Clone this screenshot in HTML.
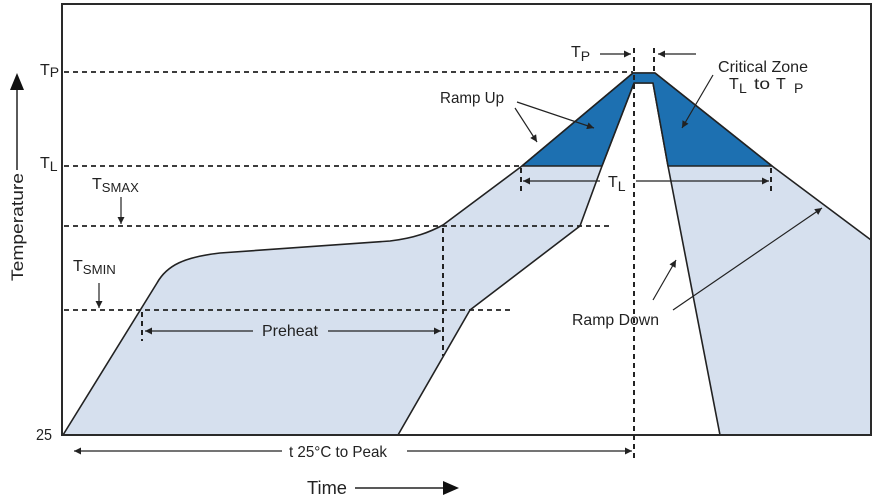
<!DOCTYPE html>
<html><head><meta charset="utf-8"><style>
html,body{margin:0;padding:0;background:#fff;}
svg{display:block;}
text{font-family:"Liberation Sans",Arial,sans-serif;fill:#222;}
</style></head><body>
<svg width="873" height="497" viewBox="0 0 873 497" xmlns="http://www.w3.org/2000/svg">
<defs>
<marker id="ah" viewBox="0 0 10 10" refX="10" refY="5" markerWidth="8" markerHeight="7" markerUnits="userSpaceOnUse" orient="auto">
<path d="M0,0 L10,5 L0,10 Z" fill="#222"/>
</marker>
</defs>
<path d="M63,435 L157,283 C167,265 185,257 220,253 L390,241 C415,238 430,232 443,225 L522,166 L633,73 L655,73 L772,166 L871,240 L871,435 L720,435 L668,166 L653,83 L634,83 L602,166 L580,226 L470,310 L398,435 Z" fill="#d6e0ee" stroke="#222" stroke-width="1.6" stroke-linejoin="round"/>
<path d="M522,166 L633,73 L655,73 L772,166 L668,166 L653,83 L634,83 L602,166 Z" fill="#1d70b1" stroke="#222" stroke-width="1.6" stroke-linejoin="round"/>
<rect x="62" y="4" width="809" height="431" fill="none" stroke="#2a2a2a" stroke-width="2"/>
<g stroke="#222" stroke-width="1.8" stroke-dasharray="5,4" fill="none">
<line x1="64" y1="72" x2="633" y2="72"/>
<line x1="64" y1="166" x2="522" y2="166"/>
<line x1="64" y1="226" x2="613" y2="226"/>
<line x1="64" y1="310" x2="513" y2="310"/>
</g>
<g stroke="#222" stroke-width="2" stroke-dasharray="5,4" fill="none">
<line x1="634" y1="48" x2="634" y2="458"/>
<line x1="654" y1="48" x2="654" y2="73"/>
<line x1="521" y1="168" x2="521" y2="193"/>
<line x1="771" y1="168" x2="771" y2="193"/>
<line x1="142" y1="312" x2="142" y2="341"/>
<line x1="443" y1="228" x2="443" y2="356"/>
</g>
<g stroke="#222" stroke-width="1.2" fill="none" marker-end="url(#ah)">
<line x1="600" y1="54" x2="631" y2="54"/>
<line x1="696" y1="54" x2="658" y2="54"/>
<line x1="600" y1="181" x2="523" y2="181"/>
<line x1="636" y1="181" x2="769" y2="181"/>
<line x1="253" y1="331" x2="145" y2="331"/>
<line x1="328" y1="331" x2="441" y2="331"/>
<line x1="282" y1="451" x2="74" y2="451"/>
<line x1="407" y1="451" x2="632" y2="451"/>
<line x1="517" y1="102" x2="594" y2="128"/>
<line x1="515" y1="108" x2="537" y2="142"/>
<line x1="713" y1="75" x2="682" y2="128"/>
<line x1="653" y1="300" x2="676" y2="260"/>
<line x1="673" y1="310" x2="822" y2="208"/>
<line x1="121" y1="197" x2="121" y2="224"/>
<line x1="99" y1="283" x2="99" y2="308"/>
</g>
<line x1="17" y1="170" x2="17" y2="88" stroke="#222" stroke-width="1.5"/>
<path d="M10,90 L24,90 L17,73 Z" fill="#111"/>
<line x1="355" y1="488" x2="444" y2="488" stroke="#222" stroke-width="1.5"/>
<path d="M443,481 L443,495 L459,488 Z" fill="#111"/>
<text x="40" y="75" font-size="16">T<tspan font-size="14" dy="2">P</tspan></text>
<text x="40" y="168" font-size="16">T<tspan font-size="14" dy="3">L</tspan></text>
<text x="92" y="189" font-size="16">T<tspan font-size="13" dy="3" textLength="37" lengthAdjust="spacingAndGlyphs">SMAX</tspan></text>
<text x="73" y="271" font-size="16">T<tspan font-size="13" dy="3" textLength="33" lengthAdjust="spacingAndGlyphs">SMIN</tspan></text>
<text x="36" y="440" font-size="16" textLength="16" lengthAdjust="spacingAndGlyphs">25</text>
<text x="571" y="57" font-size="16">T<tspan font-size="14" dy="4">P</tspan></text>
<text x="608" y="187" font-size="16">T<tspan font-size="14" dy="4">L</tspan></text>
<text x="718" y="72" font-size="16" textLength="90" lengthAdjust="spacingAndGlyphs">Critical Zone</text>
<text x="729" y="89" font-size="16">T</text>
<text x="739" y="93" font-size="14">L</text>
<text x="754" y="89" font-size="16" textLength="16" lengthAdjust="spacingAndGlyphs">to</text>
<text x="776" y="89" font-size="16">T</text>
<text x="794" y="93" font-size="14">P</text>
<text x="440" y="103" font-size="16" textLength="64" lengthAdjust="spacingAndGlyphs">Ramp Up</text>
<text x="572" y="325" font-size="16" textLength="87" lengthAdjust="spacingAndGlyphs">Ramp Down</text>
<text x="262" y="336" font-size="16" textLength="56" lengthAdjust="spacingAndGlyphs">Preheat</text>
<text x="289" y="457" font-size="16" textLength="98" lengthAdjust="spacingAndGlyphs">t 25°C to Peak</text>
<text x="307" y="494" font-size="18" textLength="40" lengthAdjust="spacingAndGlyphs">Time</text>
<text transform="translate(23,281) rotate(-90)" font-size="17" textLength="108" lengthAdjust="spacingAndGlyphs">Temperature</text>
</svg>
</body></html>
